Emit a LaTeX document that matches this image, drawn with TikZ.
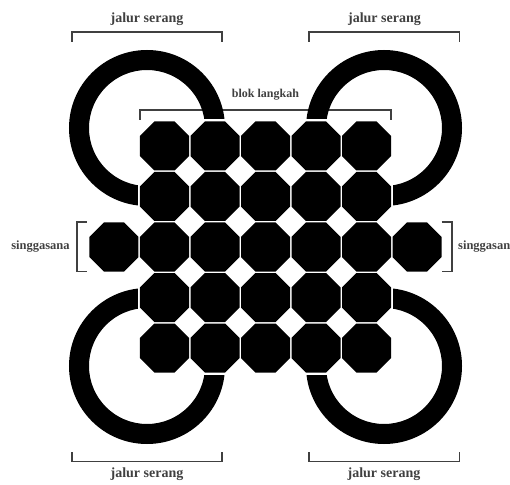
\documentclass[tikz,border=0pt]{standalone}
\usepackage{fontspec}
\setmainfont{Liberation Serif}
\usetikzlibrary{shapes.geometric}
\tikzset{
  kotak/.style={regular polygon,regular polygon sides=8,fill=black,inner sep=0pt,minimum size=53.04pt},
  kurung/.style={line width=1.4pt,black!75},
  teks/.style={font=\fontsize{#1}{#1}\selectfont\bfseries,text=black!75,inner sep=0pt}
}
\begin{document}
\begin{tikzpicture}[x=1pt,y=1pt]
  \useasboundingbox (-265.5,-237) rectangle (244.5,247);
  % brackets
  \draw[kurung] (-193.5,205)--(-193.5,215)--(-43.5,215)--(-43.5,205);
  \draw[kurung] (43.5,205)--(43.5,215)--(194,215)--(194,205);
  \draw[kurung] (-193.5,-205)--(-193.5,-214.5)--(-43.5,-214.5)--(-43.5,-205);
  \draw[kurung] (43.5,-205)--(43.5,-214.5)--(194,-214.5)--(194,-205);
  \draw[kurung] (-125.5,127)--(-125.5,137)--(125.5,137)--(125.5,127);
  \draw[kurung] (-178.5,25)--(-188.5,25)--(-188.5,-24.5)--(-178.5,-24.5);
  \draw[kurung] (176,25)--(186.5,25)--(186.5,-24.5)--(176,-24.5);
  % rings
  \foreach \sx/\sy in {1/1,-1/1,1/-1,-1/-1} {
    \begin{scope}[xscale=\sx,yscale=\sy]
      \clip (127.5,30)--(210,30)--(210,210)--(30,210)--(30,128)--(127.5,128)--cycle;
      \fill[even odd rule] (118.5,119) circle (78) (118.5,119) circle (58);
    \end{scope}
  }
  % octagons
  \foreach \i in {-2,...,2} {
    \foreach \j in {-2,...,2} {
      \node[kotak] (k\i\j) at (50.5*\i,50.5*\j) {};
    }
  }
  \node[kotak] (kiri) at (-151.5,0) {};
  \node[kotak] (kanan) at (151.5,0) {};
  % labels
  \node[teks=14] (atas1) at (-118.5,227.5) {jalur serang};
  \node[teks=14] (atas2) at (119,227.5) {jalur serang};
  \node[teks=14] (bawah1) at (-118.5,-227) {jalur serang};
  \node[teks=14] (bawah2) at (118.5,-227) {jalur serang};
  \node[teks=12] (blok) at (0,152) {blok langkah};
  \node[teks=12.5] (takhta1) at (-225,0) {singgasana};
  \node[teks=12.5,anchor=west] (takhta2) at (192.5,0) {singgasan};
\end{tikzpicture}
\end{document}
